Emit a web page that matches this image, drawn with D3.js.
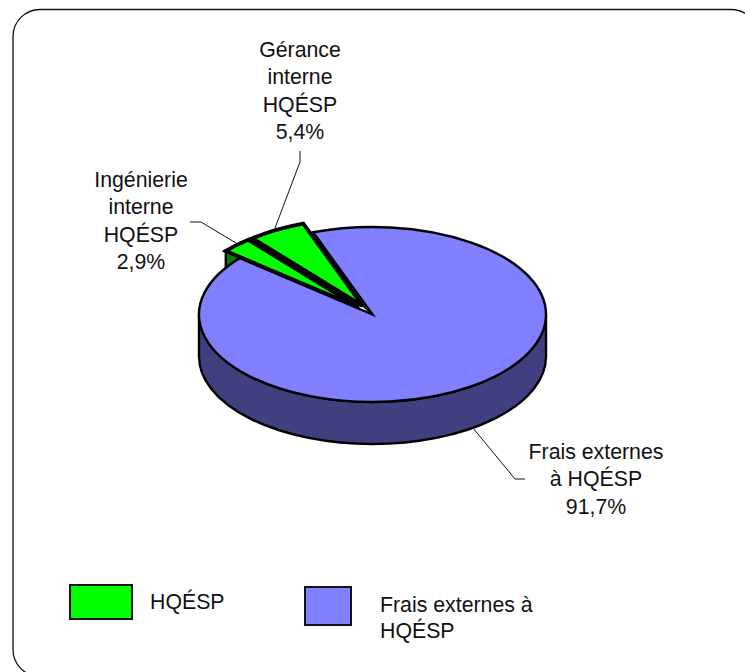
<!DOCTYPE html>
<html>
<head>
<meta charset="utf-8">
<script src="https://cdnjs.cloudflare.com/ajax/libs/d3/7.9.0/d3.min.js"></script>
<style>
  html, body { margin: 0; padding: 0; background: #fff; }
  svg { display: block; }
  text { font-family: "Liberation Sans", Arial, sans-serif; font-size: 21.3px; fill: #111; }
</style>
</head>
<body>
<div id="chart"></div>
<script>
// slices, in drawing order round the pie
const sliceNames = ["Frais externes", "Ingénierie", "Gérance"];
const sliceValues = [91.7, 2.9, 5.4];
const sliceLabels = [
  ["Frais externes", "à HQÉSP", "91,7%"],
  ["Ingénierie", "interne", "HQÉSP", "2,9%"],
  ["Gérance", "interne", "HQÉSP", "5,4%"]
];
const legendNames = [["HQÉSP"], ["Frais externes à", "HQÉSP"]];

const W = 745, H = 672;
const GREEN = "#00ff00", DARK_GREEN = "#008000", BLUE = "#8080ff", DARK_BLUE = "#404080";

const svg = d3.select("#chart").append("svg")
  .attr("width", W)
  .attr("height", H)
  .attr("viewBox", `0 0 ${W} ${H}`);

// 1. outer frame (runs off the right and bottom of the page)
svg.append("rect")
  .attr("x", 13).attr("y", 9.5)
  .attr("width", 745).attr("height", 667)
  .attr("rx", 27).attr("ry", 27)
  .attr("fill", "#fff")
  .attr("stroke", "#111")
  .attr("stroke-width", 1.3);

// 2. pie geometry, tilted so the circle becomes an ellipse
const cx = 372.5, cy = 314.5, rx = 173.5, ry = 87.5, depth = 42, explode = 0.115;
const toRad = Math.PI / 180;

const pie = d3.pie().sort(null)
  .startAngle(340 * toRad)
  .endAngle(700 * toRad);
const slices = pie(sliceValues);
const arc = d3.arc().innerRadius(0).outerRadius(rx);

const edge = (a, off) => [
  cx + off[0] + Math.sin(a) * rx,
  cy + off[1] - Math.cos(a) * ry
];
const offsets = slices.map((d, i) => {
  if (i === 0) return [0, 0];
  const mid = (d.startAngle + d.endAngle) / 2;
  return [Math.sin(mid) * rx * explode, -Math.cos(mid) * ry * explode];
});

const pieG = svg.append("g")
  .attr("stroke", "#000")
  .attr("stroke-width", 2.4)
  .attr("stroke-linejoin", "miter");

// side face of the small slice, seen left of its tip
const ing = slices[1], ingOff = offsets[1];
const ingTip = edge(ing.startAngle, ingOff);
const ingApex = [cx + ingOff[0], cy + ingOff[1]];
pieG.append("path")
  .attr("d", d3.line()([
    ingApex, ingTip,
    [ingTip[0], ingTip[1] + depth],
    [ingApex[0], ingApex[1] + depth]
  ]) + "Z")
  .attr("fill", DARK_GREEN);

// front wall of the big slice
pieG.append("path")
  .attr("d", `M${cx + rx},${cy} v${depth} A${rx},${ry} 0 0 1 ${cx - rx},${cy + depth} v${-depth} A${rx},${ry} 0 0 0 ${cx + rx},${cy} Z`)
  .attr("fill", DARK_BLUE);

const drawTop = (d, i, fill, sw) => pieG.append("path")
  .attr("d", arc(d))
  .attr("transform", `translate(${cx + offsets[i][0]},${cy + offsets[i][1]}) scale(1,${ry / rx})`)
  .attr("vector-effect", "non-scaling-stroke")
  .attr("stroke-width", sw)
  .attr("fill", fill);

drawTop(slices[0], 0, BLUE, 2.4);

// thin dark sliver along the cut edge of the big slice
pieG.append("path")
  .attr("d", d3.line()([
    edge(slices[0].startAngle, [0, 0]),
    [cx, cy],
    [cx + offsets[2][0], cy + offsets[2][1]]
  ]) + "Z")
  .attr("fill", DARK_BLUE)
  .attr("stroke-width", 1.6);

drawTop(slices[1], 1, GREEN, 3.8);
drawTop(slices[2], 2, GREEN, 3.8);

// 3. leader lines and data labels
const leaders = [
  [[473, 428], [515, 479], [525, 479]],
  [[236, 243], [201, 222], [190, 222]],
  [[275, 228], [300, 162], [300, 151]]
];
const labelPos = [[596, 459], [141, 187], [300, 57]];

svg.insert("g", "g").selectAll("path")
  .data(leaders)
  .enter().append("path")
  .attr("d", d3.line())
  .attr("fill", "none")
  .attr("stroke", "#111")
  .attr("stroke-width", 1);

sliceLabels.forEach((lines, i) => {
  svg.append("text")
    .attr("text-anchor", "middle")
    .selectAll("tspan")
    .data(lines)
    .enter().append("tspan")
    .attr("x", labelPos[i][0])
    .attr("y", (d, j) => labelPos[i][1] + j * 27.3)
    .text(d => d);
});

// 4. legend
const legendBoxes = [
  { x: 70, y: 585, w: 62, h: 34, fill: GREEN, tx: 150, ty: 609 },
  { x: 305, y: 587, w: 46, h: 38, fill: BLUE, tx: 380, ty: 612 }
];
legendBoxes.forEach((b, i) => {
  svg.append("rect")
    .attr("x", b.x).attr("y", b.y)
    .attr("width", b.w).attr("height", b.h)
    .attr("fill", b.fill)
    .attr("stroke", "#111")
    .attr("stroke-width", 2);
  svg.append("text")
    .selectAll("tspan")
    .data(legendNames[i])
    .enter().append("tspan")
    .attr("x", b.tx)
    .attr("y", (d, j) => b.ty + j * 25.5)
    .text(d => d);
});
</script>
</body>
</html>
